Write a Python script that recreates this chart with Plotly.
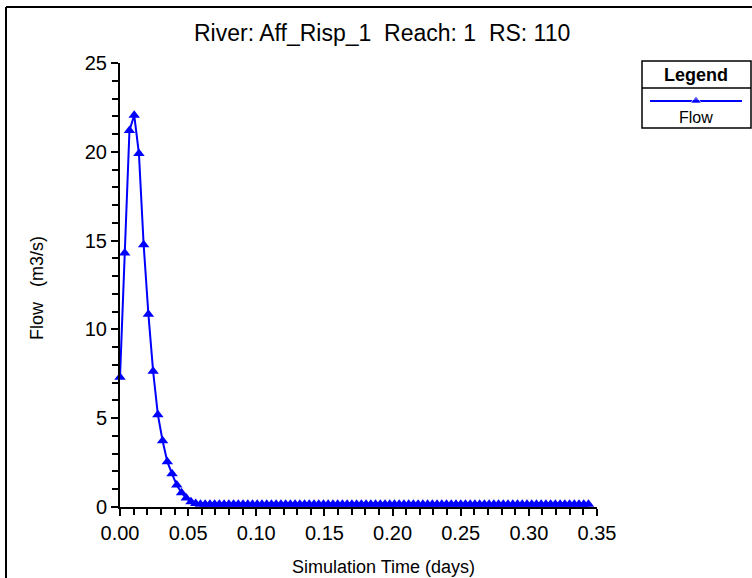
import plotly.graph_objects as go

W, H = 752, 578

# Hydrograph at RS 110, 5-minute output interval
step_minutes = 5
flow = [
    7.3, 14.3, 21.2, 22.06, 19.9, 14.76, 10.86, 7.64, 5.2, 3.73,
    2.55, 1.87, 1.24, 0.8, 0.5, 0.3, 0.2, 0.15, 0.15, 0.15,
    0.15, 0.15, 0.15, 0.15, 0.15, 0.15, 0.15, 0.15, 0.15, 0.15,
    0.15, 0.15, 0.15, 0.15, 0.15, 0.15, 0.15, 0.15, 0.15, 0.15,
    0.15, 0.15, 0.15, 0.15, 0.15, 0.15, 0.15, 0.15, 0.15, 0.15,
    0.15, 0.15, 0.15, 0.15, 0.15, 0.15, 0.15, 0.15, 0.15, 0.15,
    0.15, 0.15, 0.15, 0.15, 0.15, 0.15, 0.15, 0.15, 0.15, 0.15,
    0.15, 0.15, 0.15, 0.15, 0.15, 0.15, 0.15, 0.15, 0.15, 0.15,
    0.15, 0.15, 0.15, 0.15, 0.15, 0.15, 0.15, 0.15, 0.15, 0.15,
    0.15, 0.15, 0.15, 0.15, 0.15, 0.15, 0.15, 0.15, 0.15, 0.15,
]
time_days = [i * step_minutes / 1440 for i in range(len(flow))]

title_text = "River: Aff_Risp_1\u00a0\u00a0Reach: 1\u00a0\u00a0RS:\u00a0110"
x_title = "Simulation Time (days)"
y_title = "Flow\u00a0\u00a0\u00a0(m3/s)"
legend_title = "Legend"
series_name = "Flow"

BLUE = "#0000FF"
FONT = "Liberation Sans, Arial, sans-serif"


def px(x):
    return x / W


def py(y):
    return 1 - y / H


fig = go.Figure()

fig.add_trace(go.Scatter(
    x=time_days, y=flow, mode="lines+markers", name=series_name,
    line=dict(color=BLUE, width=2),
    marker=dict(symbol="triangle-up", size=10, color=BLUE),
    showlegend=False, cliponaxis=False,
))

# Legend sample (line with a single marker) drawn on its own hidden axes
fig.add_trace(go.Scatter(
    x=[0, 0.5, 1], y=[0.5, 0.5, 0.5], mode="lines+markers",
    line=dict(color=BLUE, width=2),
    marker=dict(symbol="triangle-up", size=[0, 10, 0], color=BLUE),
    xaxis="x2", yaxis="y2", showlegend=False, hoverinfo="skip",
))

axis_common = dict(
    showline=True, linecolor="black", linewidth=2,
    ticks="outside", ticklen=7, tickwidth=1.5, tickcolor="black",
    showgrid=False, zeroline=False, automargin=False,
    tickfont=dict(family=FONT, size=20, color="black"),
)

fig.update_layout(
    width=W, height=H,
    margin=dict(l=0, r=0, t=0, b=0, pad=0, autoexpand=False),
    paper_bgcolor="white", plot_bgcolor="white",
    xaxis=dict(
        domain=[px(120), px(597)], range=[0, 0.35],
        tick0=0, dtick=0.05, tickformat=".2f",
        minor=dict(dtick=0.01, ticks="outside", ticklen=6,
                   tickcolor="black", tickwidth=1.5),
        **axis_common,
    ),
    yaxis=dict(
        domain=[py(507), py(63)], range=[0, 25],
        tick0=0, dtick=5,
        minor=dict(dtick=1, ticks="outside", ticklen=6,
                   tickcolor="black", tickwidth=1.5),
        **axis_common,
    ),
    xaxis2=dict(domain=[px(650), px(742)], range=[0, 1], visible=False,
                anchor="y2", fixedrange=True),
    yaxis2=dict(domain=[py(106), py(96)], range=[0, 1], visible=False,
                anchor="x2", fixedrange=True),
    showlegend=False,
)

# Outer frame (top and left edges)
fig.add_shape(type="line", xref="paper", yref="paper",
              x0=px(6), x1=1, y0=py(7), y1=py(7),
              line=dict(color="black", width=2))
fig.add_shape(type="line", xref="paper", yref="paper",
              x0=px(6), x1=px(6), y0=py(7), y1=0,
              line=dict(color="black", width=2))

# Legend box
fig.add_shape(type="rect", xref="paper", yref="paper",
              x0=px(642), x1=px(751), y0=py(128), y1=py(61),
              line=dict(color="black", width=1.5), fillcolor="white",
              layer="below")
fig.add_shape(type="line", xref="paper", yref="paper",
              x0=px(642), x1=px(751), y0=py(88), y1=py(88),
              line=dict(color="black", width=1.5))

annotations = [
    dict(text=title_text, x=px(382), y=py(33), font=dict(size=23)),
    dict(text=x_title, x=px(383), y=py(567), font=dict(size=18)),
    dict(text=y_title, x=px(37), y=py(288), font=dict(size=18), textangle=-90),
    dict(text="<b>" + legend_title + "</b>", x=px(696), y=py(75), font=dict(size=18)),
    dict(text=series_name, x=px(696), y=py(117), font=dict(size=16)),
]
for a in annotations:
    a["font"].update(family=FONT, color="black")
    fig.add_annotation(xref="paper", yref="paper", showarrow=False,
                       xanchor="center", yanchor="middle", **a)

fig.write_html("out.html")
